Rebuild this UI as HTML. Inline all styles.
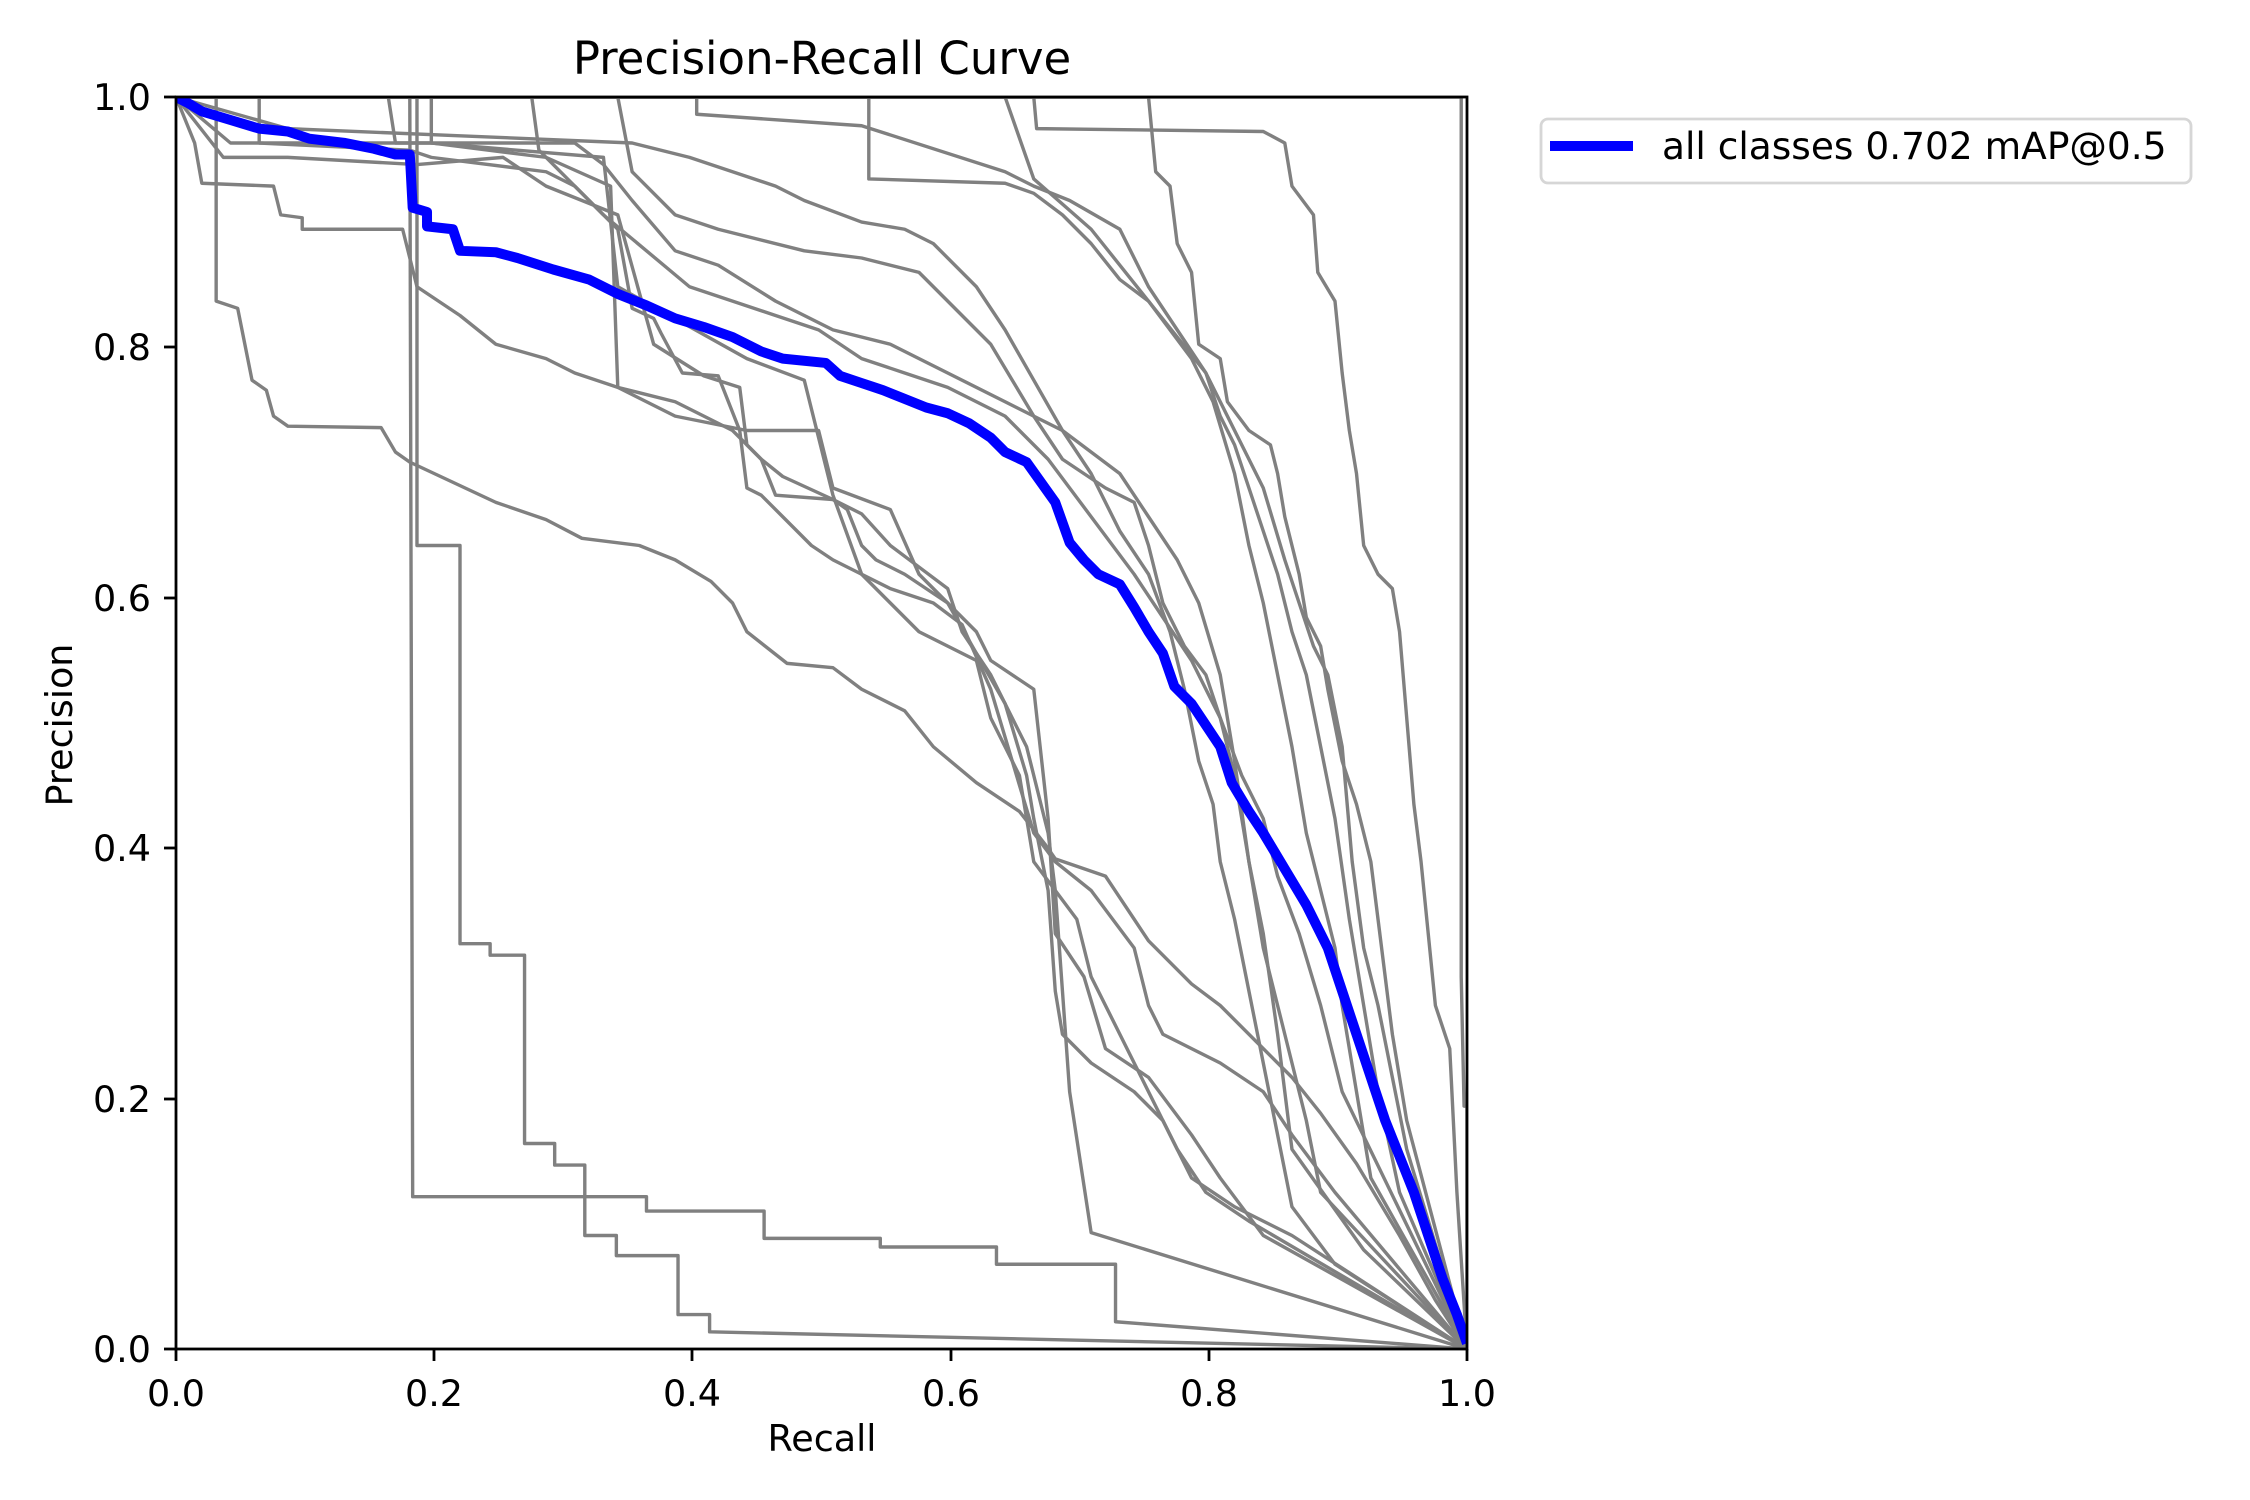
<!DOCTYPE html>
<html><head><meta charset="utf-8"><style>
html,body{margin:0;padding:0;background:#fff;}
svg{display:block;}
text{font-family:"DejaVu Sans","Liberation Sans",sans-serif;fill:#000;}
</style></head><body>
<svg width="2250" height="1500" viewBox="0 0 2250 1500" xmlns="http://www.w3.org/2000/svg">
<defs><clipPath id="c"><rect x="176" y="97" width="1291" height="1252"/></clipPath></defs>
<g clip-path="url(#c)">
<g transform="translate(1,-0.75) scale(1.4344,1.4375)" fill="none" stroke="#808080" stroke-width="3.4" stroke-linejoin="round">
<polyline vector-effect="non-scaling-stroke" points="122,68 150,68 150,210 165,215 170,240 175,265 185,272 190,290 200,297 265,298 275,315 285,322 345,350 380,362 405,375 445,380 470,390 495,405 510,420 520,440 548,462 580,465 600,480 630,495 650,520 680,545 710,565 728,588 735,598 770,610 790,640 800,655 830,685 850,700 880,730 900,750 920,775 945,810 975,860 1000,905 1022,939"/>
<polyline vector-effect="non-scaling-stroke" points="122,68 285,68 287,833 450,833 450,843 532,843 532,862 613,862 613,868 694,868 694,880 777,880 777,920 1022,939"/>
<polyline vector-effect="non-scaling-stroke" points="122,68 290,68 290,380 320,380 320,657 341,657 341,665 365,665 365,796 386,796 386,811 407,811 407,860 429,860 429,874 472,874 472,915 494,915 494,927 1022,939"/>
<polyline vector-effect="non-scaling-stroke" points="122,68 135,100 140,128 190,130 195,150 210,152 210,160 280,160 290,200 320,220 345,240 380,250 400,260 430,270 470,280 510,300 530,320 540,345 580,348 600,358 620,380 640,395 660,410 670,440 690,470 715,520 730,580 735,620 740,690 745,760 760,858 1022,939"/>
<polyline vector-effect="non-scaling-stroke" points="122,68 155,110 200,110 290,115 350,110 380,130 430,150 455,240 490,262 515,270 520,310 530,320 545,332 580,348 590,355 600,380 610,390 630,400 660,420 680,440 690,460 720,480 730,570 735,650 755,680 770,730 800,750 830,790 850,820 880,860 1022,939"/>
<polyline vector-effect="non-scaling-stroke" points="122,68 160,100 300,100 380,110 425,130 430,270 470,290 520,300 570,300 580,340 620,355 640,400 660,420 680,455 700,490 715,540 720,570 730,620 735,690 740,720 760,740 790,760 810,780 830,820 860,840 900,860 1022,939"/>
<polyline vector-effect="non-scaling-stroke" points="122,68 200,90 320,95 440,100 480,110 510,120 540,130 560,140 600,155 630,160 650,170 680,200 700,230 720,265 740,300 760,330 780,370 800,400 815,440 825,480 835,530 845,560 850,600 860,640 870,690 880,740 890,790 900,840 930,880 1022,939"/>
<polyline vector-effect="non-scaling-stroke" points="122,68 430,68 440,120 470,150 500,160 560,175 600,180 640,190 660,210 690,240 720,290 740,320 770,340 790,350 800,380 810,420 825,450 840,470 850,500 860,540 870,600 880,660 895,720 910,780 920,830 1022,939"/>
<polyline vector-effect="non-scaling-stroke" points="122,68 485,68 485,80 600,88 700,120 720,130 745,140 780,160 800,200 820,230 840,260 850,290 860,310 870,340 880,370 890,400 900,440 910,470 920,520 930,570 940,640 950,700 960,760 975,830 1022,939"/>
<polyline vector-effect="non-scaling-stroke" points="122,68 605,68 605,125 700,128 720,135 740,150 760,170 780,195 800,210 820,235 840,260 860,300 880,340 895,390 905,420 915,450 925,470 935,520 942,600 950,660 960,700 970,750 980,800 1022,939"/>
<polyline vector-effect="non-scaling-stroke" points="122,68 720,68 722,90 880,92 895,100 900,130 915,150 918,190 930,210 935,260 940,300 945,330 950,380 960,400 970,410 975,440 980,500 985,560 990,600 995,650 1000,700 1010,730 1015,830 1022,939"/>
<polyline vector-effect="non-scaling-stroke" points="122,68 800,68 805,120 815,130 820,170 830,190 835,240 850,250 855,280 870,300 885,310 890,330 895,360 905,400 910,430 920,450 925,480 935,530 945,560 955,600 960,640 965,680 970,720 980,780 1022,939"/>
<polyline vector-effect="non-scaling-stroke" points="122,68 700,68 720,125 760,160 800,210 830,250 845,280 860,330 870,380 880,420 890,470 900,520 910,580 920,620 930,660 935,700 945,760 955,820 1022,939"/>
<polyline vector-effect="non-scaling-stroke" points="122,68 370,68 375,105 430,160 440,215 455,222 460,232 475,260 500,262 515,300 520,340 530,345 545,360 565,380 580,390 600,400 620,410 650,420 670,435 690,480 720,580 735,600 760,620 790,660 800,700 810,720 850,740 880,760 900,790 930,830 1022,939"/>
<polyline vector-effect="non-scaling-stroke" points="122,68 270,68 275,100 400,100 420,115 440,140 470,175 500,185 540,210 580,230 620,240 660,260 700,280 740,300 780,330 800,360 820,390 835,420 850,470 860,530 870,600 880,650 890,720 900,800 950,870 1022,939"/>
<polyline vector-effect="non-scaling-stroke" points="122,68 300,68 300,100 420,110 430,200 520,250 560,265 580,345 600,400 620,420 640,440 680,460 690,500 710,540 720,600 750,640 760,680 780,720 800,760 820,800 840,830 870,850 1022,939"/>
<polyline vector-effect="non-scaling-stroke" points="122,68 180,68 180,100 285,105 300,110 380,120 400,130 420,150 450,175 480,200 510,210 540,220 570,230 600,250 630,260 660,270 700,290 730,320 760,360 790,400 810,430 830,460 850,500 865,540 880,570 890,610 905,650 920,700 935,760 1022,939"/>
<polyline vector-effect="non-scaling-stroke" points="122,68 1018,68 1018,680 1020,770 1022,770 1022,939"/>
<polyline vector-effect="non-scaling-stroke" stroke="#0000ff" stroke-width="10" points="122,68 130,72 140,78 160,84 180,90 200,92 215,97 240,100 260,104 275,108 285,108 287,145 297,148 297,158 315,160 320,175 345,176 360,180 385,188 410,195 430,205 450,213 470,222 490,228 510,235 530,245 545,250 575,253 585,262 600,267 615,272 630,278 645,284 660,288 675,295 690,305 700,315 715,322 725,336 735,350 745,378 755,390 765,400 780,407 790,423 800,440 810,455 818,478 830,490 840,505 850,520 858,545 870,565 880,580 895,605 910,630 925,660 935,690 945,720 955,750 965,780 975,805 985,830 995,860 1005,890 1015,915 1022,935"/>
</g>
</g>
<rect x="176" y="97" width="1291" height="1252" fill="none" stroke="#000" stroke-width="2.8"/>
<g stroke="#000" stroke-width="2.8">
<line x1="164" y1="1349" x2="176" y2="1349"/><line x1="164" y1="1099" x2="176" y2="1099"/><line x1="164" y1="848" x2="176" y2="848"/><line x1="164" y1="598" x2="176" y2="598"/><line x1="164" y1="347" x2="176" y2="347"/><line x1="164" y1="97" x2="176" y2="97"/>
<line x1="176" y1="1349" x2="176" y2="1361"/><line x1="434" y1="1349" x2="434" y2="1361"/><line x1="692" y1="1349" x2="692" y2="1361"/><line x1="951" y1="1349" x2="951" y2="1361"/><line x1="1209" y1="1349" x2="1209" y2="1361"/><line x1="1467" y1="1349" x2="1467" y2="1361"/>
</g>
<g font-size="36.5" text-anchor="end">
<text x="151" y="1362">0.0</text><text x="151" y="1112">0.2</text><text x="151" y="861">0.4</text><text x="151" y="611">0.6</text><text x="151" y="360">0.8</text><text x="151" y="110">1.0</text>
</g>
<g font-size="36.5" text-anchor="middle">
<text x="176" y="1406">0.0</text><text x="434" y="1406">0.2</text><text x="692" y="1406">0.4</text><text x="951" y="1406">0.6</text><text x="1209" y="1406">0.8</text><text x="1467" y="1406">1.0</text>
<text x="822" y="1451">Recall</text>
<text transform="translate(72,725) rotate(-90)">Precision</text>
</g>
<text x="822" y="74" font-size="45" text-anchor="middle">Precision-Recall Curve</text>
<rect x="1541" y="119" width="650" height="64" rx="7" fill="#fff" stroke="#d6d6d6" stroke-width="2.8"/>
<line x1="1550" y1="146" x2="1633" y2="146" stroke="#0000ff" stroke-width="10"/>
<text x="1662" y="159" font-size="37.5">all classes 0.702 mAP@0.5</text>
</svg>
</body></html>
